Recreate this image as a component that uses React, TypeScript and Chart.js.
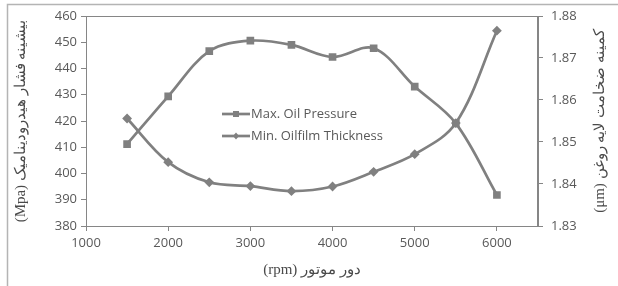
import React, { useEffect, useRef } from "react";
import { Chart, registerables } from "chart.js";

Chart.register(...registerables);

// ---- data ----
const rpm = [1500, 2000, 2500, 3000, 3500, 4000, 4500, 5000, 5500, 6000];
const maxOilPressure = [411.2, 429.4, 446.6, 450.6, 449.0, 444.4, 447.7, 433.1, 419.1, 391.8];
const minOilfilmThickness = [1.8556, 1.8452, 1.8404, 1.8395, 1.8383, 1.8394, 1.8429, 1.8471, 1.8545, 1.8765];
const xTickValues = [1000, 2000, 3000, 4000, 5000, 6000];
const leftTickValues = [380, 390, 400, 410, 420, 430, 440, 450, 460];
const rightTickValues = [1.83, 1.84, 1.85, 1.86, 1.87, 1.88];
const seriesLabels = ["Max. Oil Pressure", "Min. Oilfilm Thickness"];
const xTitle = "دور موتور (rpm)";
const leftTitle = "بیشینه فشار هیدرودینامیک (Mpa)";
const rightTitle = "کمینه ضخامت لایه روغن (μm)";

const LINE = "#808080";
const AXIS = "#868686";
const TICK_TEXT = "#595959";
const TITLE_TEXT = "#4a4a4a";
const TICK_FONT = { family: "'Open Sans', sans-serif", size: 13 };
const TITLE_FONT = "15px 'Liberation Serif', 'DejaVu Serif', serif";

const decorPlugin = {
  id: "decor",
  beforeDraw(chart: any) {
    const ctx = chart.ctx;
    ctx.save();
    ctx.strokeStyle = "#b4b4b4";
    ctx.lineWidth = 1.5;
    ctx.beginPath();
    ctx.moveTo(7.5, chart.height);
    ctx.lineTo(7.5, 4.5);
    ctx.lineTo(chart.width, 4.5);
    ctx.stroke();
    ctx.restore();
  },
  afterDraw(chart: any) {
    const ctx = chart.ctx;
    const a = chart.chartArea;
    ctx.save();
    // plot frame
    ctx.strokeStyle = AXIS;
    ctx.lineWidth = 1;
    ctx.strokeRect(Math.round(a.left) + 0.5, Math.round(a.top) + 0.5, Math.round(a.right - a.left) - 1, Math.round(a.bottom - a.top));

    // axis titles
    ctx.fillStyle = TITLE_TEXT;
    ctx.font = TITLE_FONT;
    ctx.textAlign = "center";
    ctx.textBaseline = "middle";
    (ctx as any).direction = "rtl";
    const midY = (a.top + a.bottom) / 2;
    ctx.save();
    ctx.translate(21, midY);
    ctx.rotate(-Math.PI / 2);
    ctx.fillText(leftTitle, 0, 0);
    ctx.restore();
    ctx.save();
    ctx.translate(600, midY);
    ctx.rotate(-Math.PI / 2);
    ctx.fillText(rightTitle, 0, 0);
    ctx.restore();
    ctx.fillText(xTitle, (a.left + a.right) / 2, 270);
    (ctx as any).direction = "ltr";

    // legend inside plot area
    const lx = a.left + 136;
    const ly = a.top + 98;
    chart.data.datasets.forEach((ds: any, i: number) => {
      const y = ly + i * 22;
      ctx.strokeStyle = ds.borderColor;
      ctx.lineWidth = ds.borderWidth;
      ctx.beginPath();
      ctx.moveTo(lx, y);
      ctx.lineTo(lx + 28, y);
      ctx.stroke();
      ctx.fillStyle = ds.pointBackgroundColor;
      const cx = lx + 14;
      ctx.beginPath();
      if (ds.pointStyle === "rect") {
        ctx.rect(cx - 3, y - 3, 6, 6);
      } else {
        ctx.moveTo(cx, y - 3.5);
        ctx.lineTo(cx + 3, y);
        ctx.lineTo(cx, y + 3.5);
        ctx.lineTo(cx - 3, y);
        ctx.closePath();
      }
      ctx.fill();
      ctx.fillStyle = TICK_TEXT;
      ctx.font = "13px 'Open Sans', sans-serif";
      ctx.textAlign = "left";
      ctx.textBaseline = "middle";
      ctx.fillText(ds.label, lx + 29, y);
    });
    ctx.restore();
  },
};

export default function App() {
  const ref = useRef<HTMLCanvasElement | null>(null);
  useEffect(() => {
    if (!ref.current) return;
    const chart = new Chart(ref.current, {
      type: "line",
      data: {
        datasets: [
          {
            label: seriesLabels[0],
            data: rpm.map((x, i) => ({ x, y: maxOilPressure[i] })),
            yAxisID: "y",
            borderColor: LINE,
            backgroundColor: LINE,
            pointBackgroundColor: LINE,
            pointBorderColor: LINE,
            borderWidth: 2.7,
            pointStyle: "rect",
            pointRadius: 3.5,
            tension: 0.35,
          },
          {
            label: seriesLabels[1],
            data: rpm.map((x, i) => ({ x, y: minOilfilmThickness[i] })),
            yAxisID: "y1",
            borderColor: LINE,
            backgroundColor: LINE,
            pointBackgroundColor: LINE,
            pointBorderColor: LINE,
            borderWidth: 2.7,
            pointStyle: "rectRot",
            pointRadius: 3,
            tension: 0.35,
          },
        ],
      },
      options: {
        responsive: false,
        animation: false,
        layout: { padding: { top: 16, left: 0, right: 0, bottom: 0 } },
        plugins: { legend: { display: false }, tooltip: { enabled: false } },
        scales: {
          x: {
            type: "linear",
            min: 1000,
            max: 6500,
            afterBuildTicks: (s: any) => {
              s.ticks = xTickValues.map((v) => ({ value: v }));
            },
            afterFit: (s: any) => {
              s.height = 60;
            },
            grid: { drawOnChartArea: false, drawTicks: true, tickLength: 5, color: AXIS },
            border: { display: true, color: AXIS },
            ticks: {
              color: TICK_TEXT,
              font: TICK_FONT,
              padding: 4,
              maxRotation: 0,
              autoSkip: false,
              callback: (v: any) => String(v),
            },
          },
          y: {
            type: "linear",
            position: "left",
            min: 380,
            max: 460,
            afterBuildTicks: (s: any) => {
              s.ticks = leftTickValues.map((v) => ({ value: v }));
            },
            afterFit: (s: any) => {
              s.width = 86;
            },
            grid: { drawOnChartArea: false, drawTicks: true, tickLength: 5, color: AXIS },
            border: { display: true, color: AXIS },
            ticks: { color: TICK_TEXT, font: TICK_FONT, padding: 4, autoSkip: false, callback: (v: any) => String(v) },
          },
          y1: {
            type: "linear",
            position: "right",
            min: 1.83,
            max: 1.88,
            afterBuildTicks: (s: any) => {
              s.ticks = rightTickValues.map((v) => ({ value: v }));
            },
            afterFit: (s: any) => {
              s.width = 80;
            },
            grid: { drawOnChartArea: false, drawTicks: true, tickLength: 5, color: AXIS },
            border: { display: true, color: AXIS },
            ticks: {
              color: TICK_TEXT,
              font: TICK_FONT,
              padding: 8,
              autoSkip: false,
              callback: (v: any) => Number(v).toFixed(2),
            },
          },
        },
      },
      plugins: [decorPlugin],
    } as any);
    return () => chart.destroy();
  }, []);
  return (
    <div style={{ position: "absolute", left: 0, top: 0, width: 618, height: 286, background: "#fff" }}>
      <canvas ref={ref} width={618} height={286} style={{ display: "block", width: 618, height: 286 }} />
    </div>
  );
}
